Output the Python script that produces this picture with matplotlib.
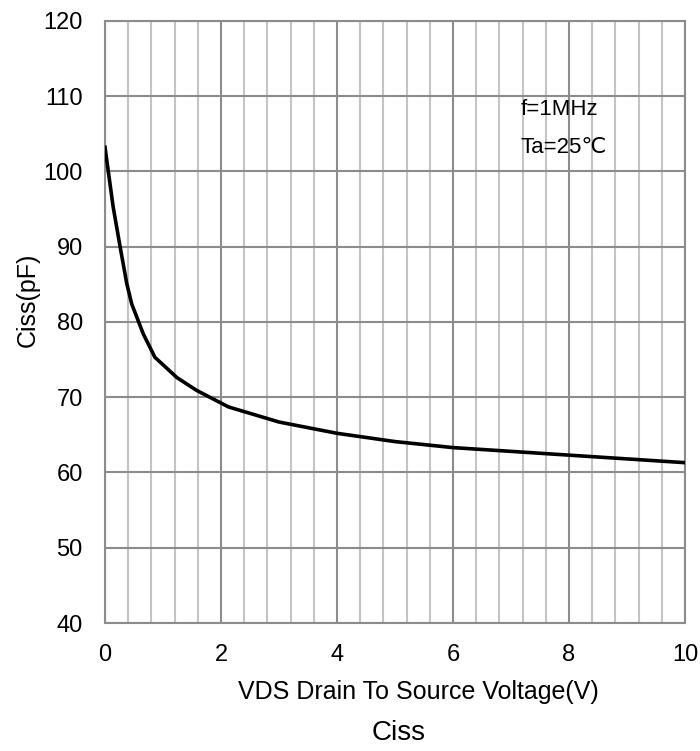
import matplotlib
matplotlib.use('Agg')
import matplotlib.pyplot as plt
from matplotlib.ticker import MultipleLocator

plt.rcParams['font.family'] = ['Liberation Sans', 'DejaVu Sans']

vds = [0.0, 0.14, 0.26, 0.375, 0.46, 0.66, 0.86, 1.24, 1.58, 2.13,
       3.0, 4.0, 5.0, 6.0, 7.0, 8.0, 9.0, 10.0]
ciss = [103.2, 95.3, 90.0, 85.1, 82.4, 78.4, 75.3, 72.6, 70.9, 68.7,
        66.7, 65.2, 64.1, 63.3, 62.8, 62.3, 61.8, 61.3]

fig = plt.figure(figsize=(7, 7.51), dpi=100)
ax = fig.add_axes([0.15, 0.1704, 0.8286, 0.802])

ax.plot(vds, ciss, color='black', linewidth=2.6, zorder=3)

ax.set_xlim(0, 10)
ax.set_ylim(40, 120)
ax.xaxis.set_major_locator(MultipleLocator(2))
ax.xaxis.set_minor_locator(MultipleLocator(0.4))
ax.yaxis.set_major_locator(MultipleLocator(10))
ax.grid(which='major', color='#8c8c8c', linewidth=1.5)
ax.grid(which='minor', axis='x', color='#c4c4c4', linewidth=1.5)
for s in ax.spines.values():
    s.set_color('#8c8c8c')
    s.set_linewidth(1.5)
ax.tick_params(which='both', length=0, labelsize=17)
ax.tick_params(axis='y', pad=16)
ax.tick_params(axis='x', pad=15)

ax.set_xlabel('VDS Drain To Source Voltage(V)', fontsize=18, va='center')
ax.xaxis.set_label_coords(0.541, -0.114)
ax.set_ylabel('Ciss(pF)', fontsize=18, va='center')
ax.yaxis.set_label_coords(-0.134, 0.536)

ax.text(7.17, 108.2, 'f=1MHz', fontsize=16, va='center', ha='left')
ax.text(7.17, 103.2, 'Ta=25℃', fontsize=16, va='center', ha='left')

fig.text(0.570, 0.024, 'Ciss', fontsize=20, ha='center', va='center')

fig.savefig('out.png', dpi=100)
